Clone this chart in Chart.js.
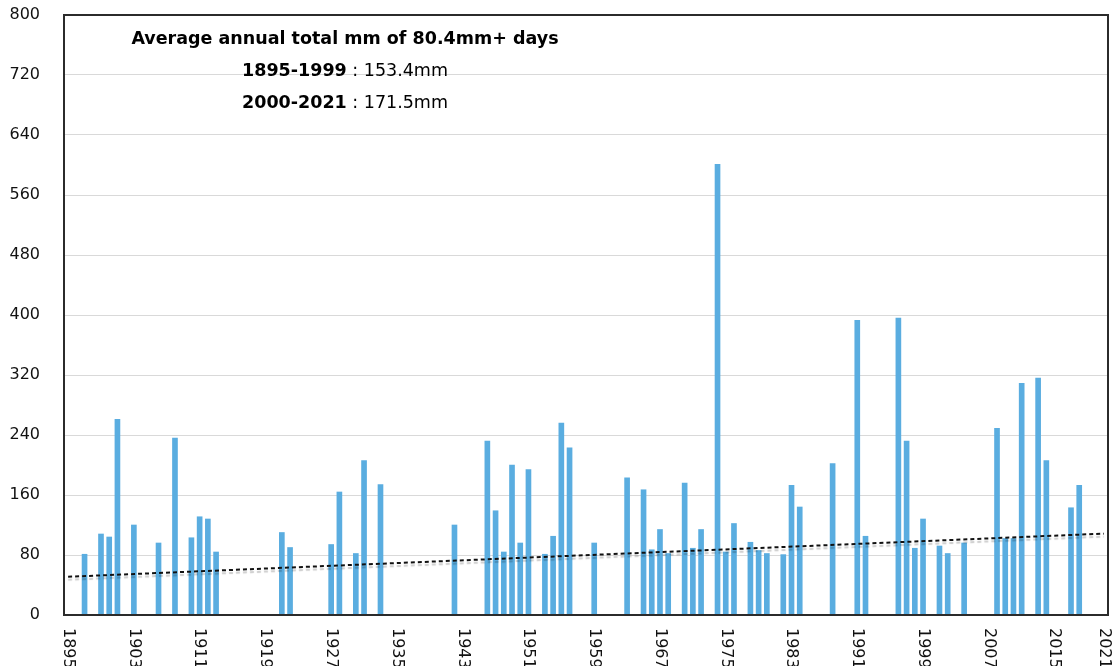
<!DOCTYPE html>
<html>
<head>
<meta charset="utf-8">
<script src="https://cdn.jsdelivr.net/npm/chart.js@4/dist/chart.umd.min.js"></script>
<style>
    body { margin: 0; background: #fff; }
    #wrap { width: 1115px; height: 666px; position: relative; }
</style>
</head>
<body>
<div id="wrap"><canvas id="chart"></canvas></div>
<script>
// Years that had 80.4mm+ days, and the total mm for each of those years
const eventYears = [
    1897, 1899, 1900, 1901, 1903, 1906, 1908, 1910, 1911, 1912, 1913,
    1921, 1922, 1927, 1928, 1930, 1931, 1933,
    1942, 1946, 1947, 1948, 1949, 1950, 1951, 1953, 1954, 1955, 1956,
    1959, 1963, 1965, 1966, 1967, 1968, 1970, 1971, 1972, 1974, 1975, 1976,
    1978, 1979, 1980, 1982, 1983, 1984, 1988, 1991, 1992, 1996, 1997, 1998, 1999,
    2001, 2002, 2004, 2008, 2009, 2010, 2011, 2013, 2014, 2017, 2018
];
const eventTotals = [
    81, 108, 104, 261, 120, 96, 236, 103, 131, 128, 84,
    110, 90, 94, 164, 82, 206, 174,
    120, 232, 139, 84, 200, 96, 194, 81, 105, 256, 223,
    96, 183, 167, 87, 114, 82, 176, 89, 114, 601, 84, 122,
    97, 86, 82, 80.5, 173, 144, 202, 393, 105, 396, 232, 89, 128,
    92, 82, 96, 249, 102, 102, 309, 316, 206, 143, 173
];

// linear trend, start and end value
const trendYears = ['1895', '2021'];
const trendValues = [51, 108.5];

const tickYears = [1895, 1903, 1911, 1919, 1927, 1935, 1943, 1951, 1959, 1967, 1975, 1983, 1991, 1999, 2007, 2015, 2021];

const titleText = 'Average annual total mm of 80.4mm+ days';
const periodLabels = ['1895-1999', '2000-2021'];
const periodAverages = ['153.4mm', '171.5mm'];

const years = [];
for (let y = 1895; y <= 2021; y++) years.push(String(y));

const barData = years.map(y => {
    const i = eventYears.indexOf(Number(y));
    return i >= 0 ? eventTotals[i] : null;
});

const FONT = '"DejaVu Sans", sans-serif';

// plot frame, rotated year labels and the text box
const decorPlugin = {
    id: 'decor',
    beforeDatasetDraw(chart, args) {
        if (args.index === 1) {
            const ctx = chart.ctx;
            ctx.save();
            ctx.shadowColor = 'rgba(0,0,0,0.2)';
            ctx.shadowOffsetY = 3;
            ctx.shadowBlur = 1;
        }
    },
    afterDatasetDraw(chart, args) {
        if (args.index === 1) chart.ctx.restore();
    },
    afterDraw(chart) {
        const ctx = chart.ctx;
        const area = chart.chartArea;
        const xs = chart.scales.x;

        ctx.save();
        ctx.strokeStyle = '#2b2b2b';
        ctx.lineWidth = 2;
        ctx.strokeRect(area.left, area.top, area.right - area.left, area.bottom - area.top);

        // x labels, rotated clockwise
        ctx.fillStyle = '#111';
        ctx.font = '16px ' + FONT;
        ctx.textAlign = 'left';
        ctx.textBaseline = 'middle';
        tickYears.forEach(y => {
            const px = xs.getPixelForValue(years.indexOf(String(y)));
            ctx.save();
            ctx.translate(px, area.bottom + 13);
            ctx.rotate(Math.PI / 2);
            ctx.fillText(String(y), 0, 0);
            ctx.restore();
        });

        // text box
        const cx = 345;
        ctx.textBaseline = 'alphabetic';
        ctx.textAlign = 'center';
        ctx.fillStyle = '#000';
        ctx.font = 'bold 17.5px ' + FONT;
        ctx.fillText(titleText, cx, 44);

        ctx.textAlign = 'left';
        periodLabels.forEach((p, i) => {
            const bold = 'bold 17.5px ' + FONT;
            const reg = '17.5px ' + FONT;
            const rest = ' : ' + periodAverages[i];
            ctx.font = bold;
            const w1 = ctx.measureText(p).width;
            ctx.font = reg;
            const w2 = ctx.measureText(rest).width;
            const x0 = cx - (w1 + w2) / 2;
            const yy = 76 + i * 32;
            ctx.font = bold;
            ctx.fillText(p, x0, yy);
            ctx.font = reg;
            ctx.fillText(rest, x0 + w1, yy);
        });
        ctx.restore();
    }
};

new Chart(document.getElementById('chart'), {
    type: 'bar',
    data: {
        labels: years,
        datasets: [{
            type: 'bar',
            data: barData,
            backgroundColor: '#5aade0',
            borderWidth: 0,
            barThickness: 5,
            order: 1
        }, {
            type: 'line',
            data: trendYears.map((y, i) => ({ x: y, y: trendValues[i] })),
            borderColor: '#111',
            borderWidth: 2,
            borderDash: [4, 3],
            pointRadius: 0,
            fill: false,
            order: 0
        }]
    },
    options: {
        responsive: true,
        maintainAspectRatio: false,
        animation: false,
        layout: { padding: { top: 15, right: 7, bottom: 51, left: 0 } },
        plugins: {
            legend: { display: false },
            tooltip: { enabled: false }
        },
        scales: {
            x: {
                type: 'category',
                offset: true,
                grid: { display: false },
                border: { display: false },
                ticks: { display: false },
                afterFit: s => { s.height = 0; s.paddingLeft = 0; s.paddingRight = 0; }
            },
            y: {
                min: 0,
                max: 800,
                grid: { color: '#d9d9d9', lineWidth: 1, drawTicks: false },
                border: { display: false },
                ticks: {
                    stepSize: 80,
                    padding: 24,
                    color: '#111',
                    font: { family: FONT, size: 16 }
                },
                afterFit: s => { s.width = 64; s.paddingTop = 0; s.paddingBottom = 0; }
            }
        }
    },
    plugins: [decorPlugin]
});
</script>
</body>
</html>
